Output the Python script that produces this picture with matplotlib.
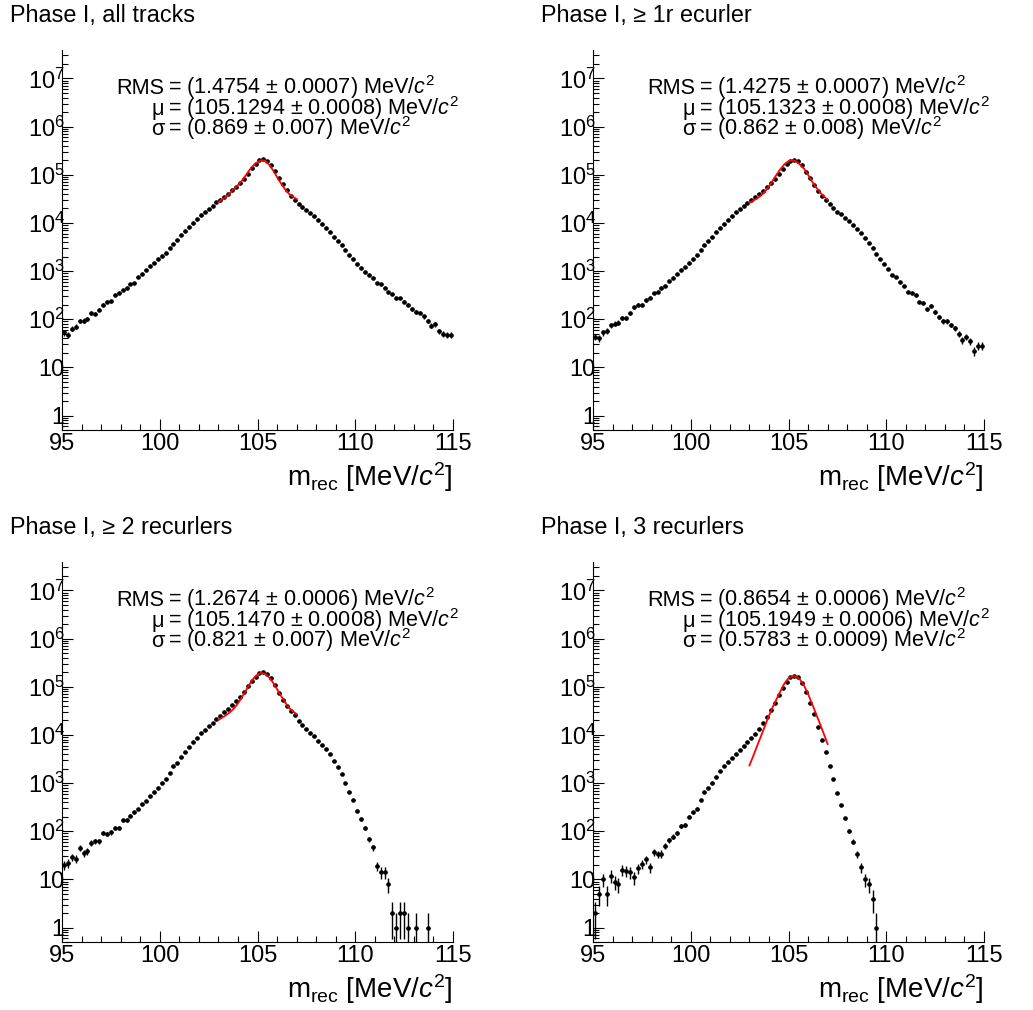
import numpy as np
from matplotlib import pyplot as plt
from matplotlib.ticker import FixedLocator, FixedFormatter, LogLocator, MultipleLocator, NullFormatter

plt.rcParams["font.family"] = ["Liberation Sans", "DejaVu Sans"]
plt.rcParams["mathtext.fontset"] = "custom"
plt.rcParams["mathtext.rm"] = "Liberation Sans"
plt.rcParams["mathtext.it"] = "Liberation Sans:italic"
plt.rcParams["mathtext.bf"] = "Liberation Sans:bold"

# histogram binning (100 bins of 0.2 MeV) and fit range
bin_edges = np.linspace(95, 115, 101)
fit_x = np.linspace(103, 107, 21)

titles = ["Phase I, all tracks", "Phase I, \u2265 1r ecurler",
          "Phase I, \u2265 2 recurlers", "Phase I, 3 recurlers"]
rms_text = ["(1.4754 \u00b1 0.0007)", "(1.4275 \u00b1 0.0007)", "(1.2674 \u00b1 0.0006)", "(0.8654 \u00b1 0.0006)"]
mu_text = ["(105.1294 \u00b1 0.0008)", "(105.1323 \u00b1 0.0008)", "(105.1470 \u00b1 0.0008)", "(105.1949 \u00b1 0.0006)"]
sigma_text = ["(0.869 \u00b1 0.007)", "(0.862 \u00b1 0.008)", "(0.821 \u00b1 0.007)", "(0.5783 \u00b1 0.0009)"]

x_ticks = [95, 100, 105, 110, 115]
y_ticks = [1, 10, 1e2, 1e3, 1e4, 1e5, 1e6, 1e7]
y_tick_labels = ["1", "10", "$10^{2}$", "$10^{3}$", "$10^{4}$", "$10^{5}$", "$10^{6}$", "$10^{7}$"]

counts_all = [53, 47, 64, 70, 91, 94, 103, 133, 131, 158,
              198, 232, 236, 314, 356, 411, 438, 530, 574, 740,
              867, 1050, 1270, 1490, 1740, 2040, 2390, 2990, 3730, 4520,
              5560, 6830, 8390, 10000, 12100, 14400, 16900, 19200, 22500, 26800,
              29900, 34500, 39800, 47400, 56500, 67300, 82600, 105000, 135000, 169000,
              198000, 208000, 189000, 158000, 119000, 83900, 64100, 47400, 36800, 30400,
              25100, 21400, 18600, 16100, 13700, 11300, 9680, 8000, 6410, 5130,
              4180, 3510, 2720, 2110, 1740, 1400, 1150, 969, 826, 716,
              565, 538, 452, 368, 329, 272, 276, 232, 198, 164,
              142, 137, 114, 92, 73, 78, 56, 50, 47, 47]
counts_1rec = [43, 40, 53, 57, 75, 81, 85, 108, 108, 133,
               177, 198, 198, 247, 281, 345, 362, 445, 498, 621,
               728, 867, 1030, 1230, 1490, 1740, 2140, 2680, 3400, 4250,
               5130, 6410, 7880, 9680, 11500, 13700, 16600, 19200, 22100, 25900,
               29400, 34000, 39800, 46700, 55600, 67300, 82600, 105000, 133000, 166000,
               195000, 204000, 189000, 158000, 115000, 83900, 61100, 45900, 35600, 29400,
               24300, 20800, 17200, 15100, 12900, 10800, 9100, 7510, 6110, 4820,
               3850, 3040, 2280, 1740, 1370, 1120, 839, 740, 592, 490,
               373, 356, 314, 229, 221, 161, 189, 142, 112, 90,
               90, 76, 65, 50, 37, 43, 35, 22, 28, 28]
counts_2rec = [20, 22, 29, 27, 45, 35, 39, 57, 62, 62,
               92, 87, 95, 117, 117, 169, 171, 211, 247, 290,
               368, 418, 538, 641, 800, 1020, 1210, 1640, 2210, 2640,
               3450, 4450, 5740, 7160, 8810, 10800, 12900, 15300, 18000, 21400,
               24700, 29400, 34000, 41100, 49700, 62100, 77600, 102000, 129000, 161000,
               189000, 201000, 183000, 149000, 107000, 75100, 53000, 39800, 30900, 25500,
               19500, 16100, 13500, 11200, 9380, 7640, 6310, 5050, 3920, 2940,
               2140, 1560, 1000, 662, 452, 268, 180, 115, 68, 46,
               19, 14, 14, 8, 2, 1, 2, 2, 1, 0,
               1, 0, 0, 1, 0, 0, 0, 0, 0, 0]
counts_3rec = [2, 5, 10, 5, 12, 9, 8, 16, 15, 14,
               11, 17, 21, 26, 18, 37, 33, 34, 50, 65,
               77, 93, 130, 136, 202, 248, 294, 451, 658, 807,
               1020, 1340, 1770, 2210, 2720, 3280, 4030, 4790, 5780, 7100,
               8430, 10500, 13500, 17700, 23900, 33200, 47000, 66400, 94000, 125000,
               156000, 171000, 156000, 117000, 77800, 47000, 27000, 14900, 7920, 4350,
               2250, 1200, 628, 350, 184, 101, 61, 33, 18, 10,
               8, 4, 1, 0, 0, 0, 0, 0, 0, 0,
               0, 0, 0, 0, 0, 0, 0, 0, 0, 0,
               0, 0, 0, 0, 0, 0, 0, 0, 0, 0]

# red fit curves, read at 103.0, 103.2, ..., 107.0
fit_all = [26800, 30900, 35100, 41800, 51300, 61100, 75100, 96900, 127000, 158000, 183000,
           201000, 195000, 161000, 123000, 89500, 66200, 50500, 40500, 35100, 31400]
fit_1rec = [25900, 29000, 32400, 37300, 45200, 57400, 76400, 102000, 133000, 166000, 192000,
            201000, 189000, 161000, 133000, 100000, 72800, 55600, 43800, 35600, 30400]
fit_2rec = [20400, 22900, 25900, 29900, 35600, 45200, 60100, 82600, 114000, 149000, 180000,
            195000, 186000, 156000, 121000, 89500, 65100, 48200, 37300, 30900, 27200]
fit_3rec = [2320, 3660, 5970, 9570, 15600, 25000, 38300, 56700, 82800, 119000, 151000,
            166000, 163000, 139000, 105000, 70800, 44800, 27900, 17400, 10700, 6460]


def sub_plot(ax, counts, fit_vals, i):
    centers = 0.5 * (bin_edges[:-1] + bin_edges[1:])
    half_w = 0.5 * np.diff(bin_edges)
    counts = np.array(counts, dtype=float)
    mask = counts > 0

    ax.set_yscale("log")
    ax.errorbar(centers[mask], counts[mask], xerr=half_w[mask], yerr=np.sqrt(counts[mask]),
                fmt="o", ms=2.3, color="black", ecolor="black", elinewidth=1.0, capsize=0, zorder=3)
    ax.plot(fit_x, fit_vals, color="red", lw=1.3, zorder=4)

    ax.set_xlim(95, 115)
    ax.set_ylim(0.5, 3.9e7)
    for side in ["top", "right"]:
        ax.spines[side].set_visible(False)
    for side in ["left", "bottom"]:
        ax.spines[side].set_linewidth(0.8)

    ax.xaxis.set_major_locator(FixedLocator(x_ticks))
    ax.xaxis.set_minor_locator(MultipleLocator(1))
    ax.yaxis.set_major_locator(FixedLocator(y_ticks))
    ax.yaxis.set_major_formatter(FixedFormatter(y_tick_labels))
    ax.yaxis.set_minor_locator(LogLocator(base=10, subs=np.arange(2, 10), numticks=30))
    ax.yaxis.set_minor_formatter(NullFormatter())
    ax.tick_params(which="both", direction="in", top=False, right=False, width=0.8, labelsize=17)
    ax.tick_params(which="major", length=8)
    ax.tick_params(which="minor", length=4)
    ax.tick_params(axis="x", which="major", pad=2)
    ax.tick_params(axis="y", which="major", pad=-2)

    fs = 15.6
    for y, lhs, rhs in [(0.884, "RMS", rms_text[i]), (0.829, "\u03bc", mu_text[i]),
                        (0.776, "\u03c3", sigma_text[i])]:
        ax.text(0.261, y, lhs, ha="right", va="baseline", fontsize=fs, transform=ax.transAxes)
        ax.text(0.271, y, "= " + rhs + " MeV/$c^{2}$", ha="left", va="baseline",
                fontsize=fs, transform=ax.transAxes)

    ax.text(1.0, -0.147, r"$\mathrm{m}_{\mathrm{rec}}$ [MeV/$c^{2}$]", ha="right", va="baseline",
            fontsize=20, transform=ax.transAxes)


def plot():
    fig = plt.figure(figsize=(10.33, 10.10), dpi=100)
    W, H = 1033.0, 1010.0
    # axes boxes in pixels: left, top
    boxes = [(62, 50), (593, 50), (62, 562), (593, 562)]
    data = [(counts_all, fit_all), (counts_1rec, fit_1rec), (counts_2rec, fit_2rec), (counts_3rec, fit_3rec)]
    for i, ((left, top), (c, f)) in enumerate(zip(boxes, data)):
        ax = fig.add_axes([left / W, 1 - (top + 380) / H, 391 / W, 380 / H])
        sub_plot(ax, c, f, i)
        fig.text((left - 52) / W, 1 - (top - 28) / H, titles[i], fontsize=16.8, va="baseline")
    fig.savefig("out.png", dpi=100)


if __name__ == '__main__':
    plot()
